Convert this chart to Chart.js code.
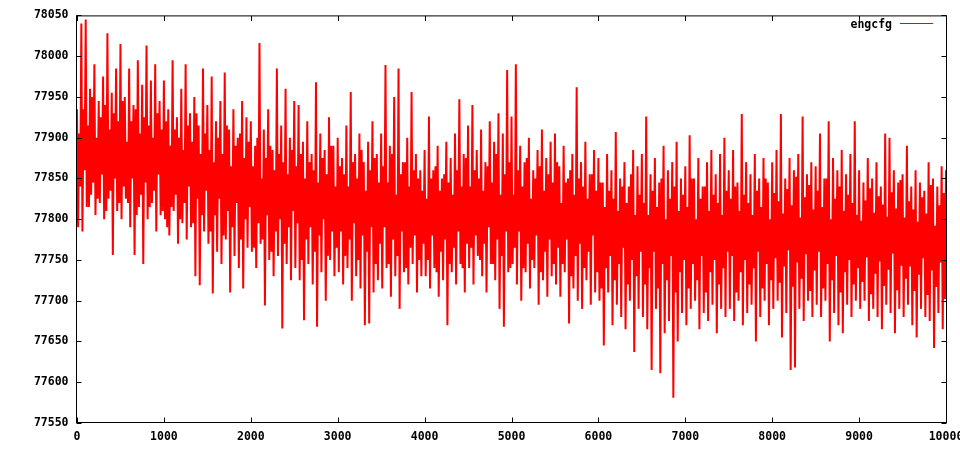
<!DOCTYPE html>
<html>
<head>
<meta charset="utf-8">
<script src="https://cdn.jsdelivr.net/npm/chart.js@4.4.1/dist/chart.umd.min.js"></script>
<style>
    html, body { margin: 0; padding: 0; background: #fff; overflow: hidden; }
    #wrap { width: 980px; height: 450px; }
</style>
</head>
<body>
<div id="wrap"><canvas id="engChart"></canvas></div>
<script>
/* Series name */
var seriesLabel = 'engcfg';

/* Tick values on both axes */
var xTickValues = [0, 1000, 2000, 3000, 4000, 5000, 6000, 7000, 8000, 9000, 10000];
var yTickValues = [77550, 77600, 77650, 77700, 77750, 77800, 77850, 77900, 77950, 78000, 78050];

/* Sample values, spread evenly from 0 to 10000 (one row = 500 steps) */
var values = [
    77935, 77790, 77905, 77840, 78040, 77785, 77935, 77860, 78045, 77815, 77915, 77815, 77960, 77830, 77950, 77845, 77990, 77805, 77900, 77825, 77945, 77820, 77925, 77855, 77975, 77800, 77940, 77810, 78028, 77825, 77910, 77835, 77955, 77756, 77930, 77850, 77985, 77810, 77920, 77820,
    78015, 77800, 77945, 77840, 77950, 77825, 77895, 77820, 77985, 77790, 77920, 77850, 77940, 77756, 77935, 77805, 77995, 77815, 77905, 77830, 77965, 77745, 77925, 77845, 78013, 77800, 77915, 77815, 77970, 77820, 77900, 77835, 77990, 77785, 77930, 77855, 77945, 77805, 77910, 77810,
    77970, 77800, 77920, 77790, 77935, 77780, 77890, 77815, 77995, 77810, 77910, 77830, 77925, 77770, 77900, 77800, 77960, 77795, 77885, 77820, 77990, 77775, 77915, 77840, 77930, 77790, 77895, 77795, 77950, 77730, 77930, 77825, 77915, 77719, 77880, 77805, 77985, 77785, 77905, 77835,
    77940, 77770, 77885, 77785, 77975, 77709, 77870, 77805, 77920, 77760, 77900, 77825, 77945, 77745, 77880, 77780, 77980, 77775, 77915, 77810, 77910, 77710, 77865, 77790, 77935, 77755, 77890, 77820, 77900, 77740, 77905, 77775, 77945, 77715, 77875, 77800, 77925, 77765, 77895, 77815,
    77920, 77760, 77865, 77765, 77890, 77740, 77900, 77795, 78016, 77770, 77850, 77775, 77910, 77694, 77875, 77805, 77935, 77750, 77890, 77760, 77885, 77730, 77860, 77785, 77985, 77755, 77880, 77800, 77915, 77666, 77870, 77770, 77960, 77745, 77855, 77790, 77900, 77725, 77885, 77810,
    77945, 77740, 77865, 77795, 77940, 77725, 77880, 77750, 77895, 77676, 77850, 77775, 77920, 77745, 77870, 77790, 77880, 77720, 77860, 77760, 77968, 77668, 77845, 77780, 77905, 77735, 77875, 77800, 77885, 77700, 77855, 77755, 77925, 77750, 77890, 77785, 77890, 77730, 77840, 77765,
    77900, 77735, 77865, 77785, 77875, 77720, 77855, 77755, 77915, 77740, 77840, 77775, 77956, 77700, 77870, 77795, 77880, 77730, 77850, 77750, 77905, 77715, 77885, 77780, 77870, 77670, 77835, 77760, 77895, 77672, 77860, 77790, 77920, 77710, 77875, 77745, 77880, 77725, 77845, 77770,
    77905, 77715, 77865, 77790, 77989, 77740, 77845, 77745, 77890, 77705, 77880, 77775, 77950, 77730, 77830, 77755, 77985, 77690, 77855, 77785, 77870, 77735, 77870, 77740, 77900, 77720, 77840, 77765, 77956, 77745, 77860, 77780, 77880, 77710, 77850, 77750, 77860, 77730, 77835, 77770,
    77885, 77730, 77825, 77750, 77926, 77715, 77850, 77780, 77860, 77740, 77865, 77735, 77890, 77705, 77835, 77760, 77850, 77725, 77855, 77775, 77895, 77670, 77845, 77745, 77875, 77735, 77830, 77765, 77905, 77720, 77860, 77785, 77947, 77745, 77840, 77740, 77880, 77710, 77875, 77770,
    77915, 77740, 77840, 77765, 77940, 77720, 77860, 77780, 77885, 77755, 77850, 77750, 77910, 77730, 77835, 77770, 77870, 77710, 77865, 77790, 77920, 77745, 77845, 77745, 77895, 77725, 77880, 77775, 77930, 77690, 77830, 77755, 77905, 77668, 77855, 77785, 77983, 77735, 77870, 77740,
    77926, 77745, 77830, 77765, 77990, 77720, 77860, 77785, 77890, 77700, 77840, 77740, 77870, 77735, 77875, 77770, 77900, 77715, 77825, 77750, 77860, 77740, 77850, 77780, 77885, 77695, 77865, 77735, 77910, 77725, 77835, 77760, 77875, 77705, 77855, 77775, 77895, 77730, 77845, 77745,
    77905, 77720, 77870, 77765, 77865, 77705, 77820, 77745, 77890, 77735, 77845, 77775, 77850, 77672, 77860, 77730, 77880, 77715, 77830, 77755, 77962, 77700, 77850, 77770, 77870, 77690, 77840, 77740, 77895, 77725, 77825, 77760, 77855, 77695, 77855, 77780, 77885, 77710, 77835, 77735,
    77875, 77700, 77845, 77715, 77845, 77645, 77815, 77740, 77880, 77710, 77835, 77755, 77860, 77670, 77825, 77725, 77907, 77695, 77810, 77745, 77850, 77680, 77840, 77765, 77870, 77665, 77820, 77720, 77840, 77700, 77855, 77750, 77885, 77637, 77805, 77730, 77865, 77690, 77830, 77760,
    77880, 77680, 77820, 77720, 77926, 77665, 77805, 77740, 77855, 77615, 77835, 77760, 77875, 77690, 77815, 77715, 77845, 77611, 77850, 77745, 77890, 77660, 77800, 77725, 77860, 77675, 77825, 77755, 77870, 77581, 77840, 77710, 77895, 77650, 77810, 77735, 77850, 77685, 77830, 77750,
    77865, 77670, 77815, 77715, 77903, 77690, 77850, 77745, 77850, 77700, 77800, 77725, 77875, 77665, 77825, 77755, 77840, 77685, 77840, 77710, 77870, 77675, 77810, 77735, 77885, 77695, 77830, 77750, 77855, 77660, 77820, 77720, 77880, 77690, 77805, 77740, 77900, 77680, 77835, 77760,
    77860, 77690, 77825, 77755, 77885, 77675, 77840, 77710, 77845, 77700, 77810, 77735, 77929, 77670, 77830, 77750, 77870, 77685, 77820, 77720, 77855, 77695, 77805, 77740, 77880, 77650, 77835, 77760, 77850, 77680, 77815, 77715, 77875, 77700, 77850, 77745, 77845, 77670, 77800, 77725,
    77870, 77690, 77832, 77752, 77885, 77700, 77822, 77722, 77929, 77655, 77807, 77742, 77850, 77685, 77837, 77762, 77875, 77615, 77817, 77717, 77860, 77618, 77852, 77747, 77880, 77690, 77802, 77727, 77926, 77675, 77827, 77757, 77855, 77700, 77842, 77712, 77870, 77680, 77812, 77737,
    77865, 77695, 77835, 77760, 77905, 77680, 77815, 77715, 77850, 77700, 77850, 77745, 77920, 77650, 77800, 77725, 77875, 77685, 77825, 77755, 77860, 77670, 77840, 77710, 77885, 77660, 77810, 77735, 77855, 77695, 77830, 77750, 77880, 77680, 77820, 77720, 77920, 77700, 77805, 77740,
    77860, 77690, 77798, 77723, 77845, 77700, 77823, 77753, 77875, 77675, 77838, 77708, 77850, 77690, 77808, 77733, 77870, 77680, 77828, 77748, 77840, 77665, 77818, 77718, 77905, 77695, 77803, 77738, 77900, 77685, 77833, 77758, 77860, 77660, 77813, 77713, 77845, 77690, 77848, 77743,
    77855, 77680, 77802, 77727, 77890, 77695, 77822, 77742, 77840, 77670, 77812, 77712, 77860, 77655, 77797, 77732, 77845, 77690, 77827, 77752, 77835, 77680, 77807, 77707, 77870, 77675, 77842, 77737, 77850, 77642, 77792, 77717, 77840, 77685, 77817, 77747, 77865, 77665, 77832, 77702,
    77860
];

/* Colours and font */
var red_color = '#ff0000';
var black_color = '#000000';
var tickFont = { family: 'DejaVu Sans Mono', size: 11.5, weight: 'bold' };

/* Build x/y points, the samples cover 0..10000 evenly */
var xMax = xTickValues[xTickValues.length - 1];
var points = values.map(function(v, i) {
    return { x: i * xMax / (values.length - 1), y: v };
});

/* Frame, inward ticks on all four sides, and the legend (gnuplot style) */
var framePlugin = {
    id: 'frame',
    afterDraw: function(chart) {
        var ctx = chart.ctx;
        var a = chart.chartArea;
        var xs = chart.scales.x;
        var ys = chart.scales.y;
        var L = a.left - 0.5, R = a.right + 0.5, T = a.top + 0.5, B = a.bottom - 0.5;
        var tl = 5;

        ctx.save();
        ctx.strokeStyle = black_color;
        ctx.lineWidth = 1;
        ctx.strokeRect(L, T, R - L, B - T);

        ctx.beginPath();
        xTickValues.forEach(function(v) {
            var px = Math.round(xs.getPixelForValue(v)) + 0.5;
            ctx.moveTo(px, B); ctx.lineTo(px, B - tl);
            ctx.moveTo(px, T); ctx.lineTo(px, T + tl);
        });
        yTickValues.forEach(function(v) {
            var py = Math.round(ys.getPixelForValue(v)) + 0.5;
            ctx.moveTo(L, py); ctx.lineTo(L + tl, py);
            ctx.moveTo(R, py); ctx.lineTo(R - tl, py);
        });
        ctx.stroke();

        // Legend: text then a line sample
        var ds = chart.data.datasets[0];
        ctx.font = 'bold 11.5px "DejaVu Sans Mono"';
        ctx.fillStyle = black_color;
        ctx.textAlign = 'right';
        ctx.textBaseline = 'alphabetic';
        ctx.fillText(ds.label, 892, 27.5);
        ctx.strokeStyle = ds.borderColor;
        ctx.lineWidth = 1;
        ctx.beginPath();
        ctx.moveTo(900, 23.5);
        ctx.lineTo(933, 23.5);
        ctx.stroke();
        ctx.restore();
    }
};

var chart = new Chart(document.getElementById('engChart'), {
    type: 'line',
    data: {
        datasets: [{
            label: seriesLabel,
            data: points,
            borderColor: red_color,
            borderWidth: 2,
            pointRadius: 0,
            tension: 0,
            fill: false
        }]
    },
    options: {
        responsive: true,
        maintainAspectRatio: false,
        animation: false,
        events: [],
        layout: { padding: { left: 0, top: 13, right: 34, bottom: 0 } },
        plugins: {
            legend: { display: false },
            tooltip: { enabled: false }
        },
        scales: {
            x: {
                type: 'linear',
                min: 0,
                max: xMax,
                grid: { display: false, drawTicks: false },
                border: { display: false },
                afterBuildTicks: function(s) {
                    s.ticks = xTickValues.map(function(v) { return { value: v }; });
                },
                afterFit: function(s) { s.height = 27; },
                ticks: {
                    autoSkip: false,
                    maxRotation: 0,
                    padding: 7,
                    color: black_color,
                    font: tickFont,
                    callback: function(v) { return String(v); }
                }
            },
            y: {
                type: 'linear',
                min: yTickValues[0],
                max: yTickValues[yTickValues.length - 1],
                grid: { display: false, drawTicks: false },
                border: { display: false },
                afterBuildTicks: function(s) {
                    s.ticks = yTickValues.map(function(v) { return { value: v }; });
                },
                afterFit: function(s) { s.width = 77; },
                ticks: {
                    autoSkip: false,
                    padding: 8.5,
                    color: black_color,
                    font: tickFont,
                    callback: function(v) { return String(v); }
                }
            }
        }
    },
    plugins: [framePlugin]
});
</script>
</body>
</html>
